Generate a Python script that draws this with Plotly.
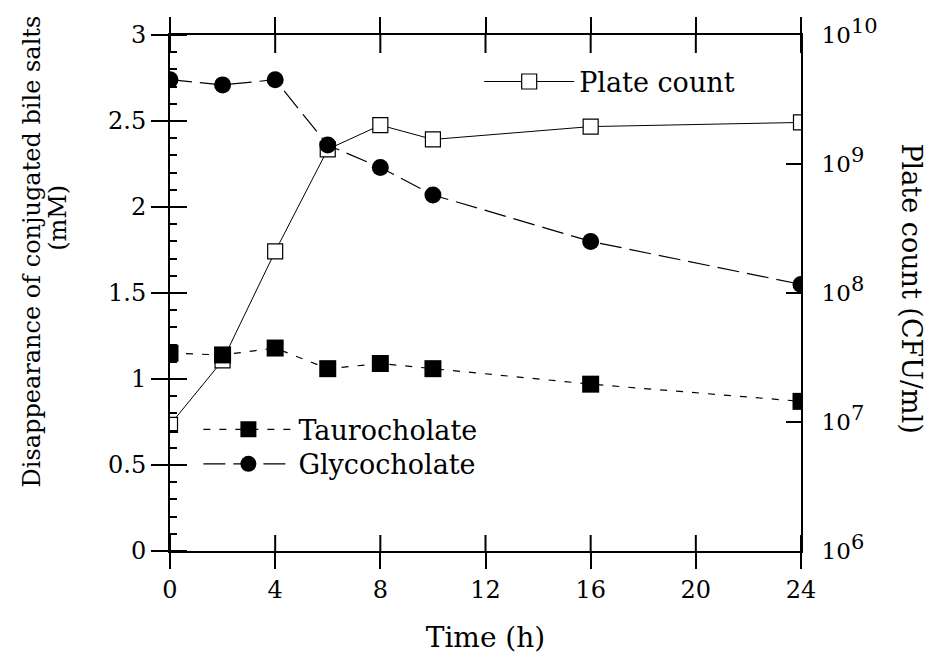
import plotly.graph_objects as go

time_h = [0, 2, 4, 6, 8, 10, 16, 24]
taurocholate = [1.15, 1.14, 1.18, 1.06, 1.09, 1.06, 0.97, 0.87]
glycocholate = [2.74, 2.71, 2.74, 2.36, 2.23, 2.07, 1.80, 1.55]
plate_count = [9.5e6, 3.0e7, 2.1e8, 1.3e9, 2.0e9, 1.55e9, 1.95e9, 2.1e9]

x_ticks = [0, 4, 8, 12, 16, 20, 24]
left_ticks = [0, 0.5, 1, 1.5, 2, 2.5, 3]
left_ticktext = ["0", "0.5", "1", "1.5", "2", "2.5", "3"]
right_tickvals = [1e6, 1e7, 1e8, 1e9, 1e10]
right_exponents = ["6", "7", "8", "9", "10"]
right_ticktext = ["10<sup><span style='font-size:21px'>%s</span></sup>" % e for e in right_exponents]

FONT = "DejaVu Serif"
BLACK = "#000000"

W, H = 930, 654
ML, MR, MT, MB = 170, 129, 35, 103
PLOT_W = W - ML - MR
PLOT_H = H - MT - MB

fig = go.Figure()

fig.add_trace(go.Scatter(
    x=time_h, y=plate_count, name="Plate count", mode="lines+markers",
    xaxis="x", yaxis="y",
    line=dict(color=BLACK, width=1),
    marker=dict(symbol="square", size=15, color="white", line=dict(color=BLACK, width=1.2)),
    legend="legend",
))
fig.add_trace(go.Scatter(
    x=time_h, y=taurocholate, name="Taurocholate", mode="lines+markers",
    xaxis="x", yaxis="y2",
    line=dict(color=BLACK, width=1.2, dash="7px,9px"),
    marker=dict(symbol="square", size=17, color=BLACK),
    legend="legend2",
))
fig.add_trace(go.Scatter(
    x=time_h, y=glycocholate, name="Glycocholate", mode="lines+markers",
    xaxis="x", yaxis="y2",
    line=dict(color=BLACK, width=1.2, dash="22px,8px"),
    marker=dict(symbol="circle", size=17, color=BLACK),
    legend="legend3",
))

tickfont = dict(family=FONT, size=24, color=BLACK)
legfont = dict(family=FONT, size=27, color=BLACK)

fig.update_layout(
    width=W, height=H,
    margin=dict(l=ML, r=MR, t=MT, b=MB, autoexpand=False),
    paper_bgcolor="white", plot_bgcolor="white",
    font=dict(family=FONT, size=24, color=BLACK),
    xaxis=dict(
        range=[0, 24], tickvals=x_ticks, ticks="outside", ticklen=16, tickwidth=2,
        tickcolor=BLACK, showline=True, linewidth=2, linecolor=BLACK, mirror="ticks",
        showgrid=False, zeroline=False, tickfont=tickfont, anchor="y", automargin=False,
        title=dict(text="Time (h)", font=dict(family=FONT, size=28), standoff=26),
    ),
    yaxis=dict(
        type="log", range=[6, 10], side="right", tickvals=right_tickvals,
        ticktext=right_ticktext, ticks="inside", ticklen=15, tickwidth=2,
        tickcolor=BLACK, showline=True, linewidth=2, linecolor=BLACK,
        showgrid=False, zeroline=False, tickfont=dict(family=FONT, size=23, color=BLACK),
        ticklabelstandoff=14, anchor="x", automargin=False,
    ),
    yaxis2=dict(
        range=[0, 3], side="left", tickvals=left_ticks, ticktext=left_ticktext,
        ticks="outside", ticklen=17, tickwidth=2, tickcolor=BLACK,
        showline=True, linewidth=2, linecolor=BLACK, showgrid=False, zeroline=False,
        tickfont=tickfont, overlaying="y", anchor="x", automargin=False,
        minor=dict(ticks="inside", dtick=0.1, ticklen=7, tickwidth=2, tickcolor=BLACK, showgrid=False),
    ),
    legend=dict(
        x=0.49, y=0.909, xanchor="left", yanchor="middle", bgcolor="rgba(0,0,0,0)",
        font=legfont, itemwidth=90,
    ),
    legend2=dict(
        x=0.045, y=0.235, xanchor="left", yanchor="middle", bgcolor="rgba(0,0,0,0)",
        font=legfont, itemwidth=90,
    ),
    legend3=dict(
        x=0.045, y=0.168, xanchor="left", yanchor="middle", bgcolor="rgba(0,0,0,0)",
        font=legfont, itemwidth=90,
    ),
    showlegend=True,
)

# inward halves of the crossing major ticks (positions taken from the tick lists)
tick_line = dict(color=BLACK, width=2)
in_x = 16 / PLOT_H
in_top = 18 / PLOT_H
in_y = 17 / PLOT_W
for xv in x_ticks:
    fig.add_shape(type="line", xref="x", yref="paper", x0=xv, x1=xv, y0=0, y1=in_x,
                  line=tick_line, layer="above")
    fig.add_shape(type="line", xref="x", yref="paper", x0=xv, x1=xv, y0=1, y1=1 - in_top,
                  line=tick_line, layer="above")
for yv in left_ticks:
    fig.add_shape(type="line", xref="paper", yref="y2", x0=0, x1=in_y, y0=yv, y1=yv,
                  line=tick_line, layer="above")

fig.add_annotation(
    text="Disappearance of conjugated bile salts", textangle=-90,
    xref="paper", yref="paper", x=-0.219, y=0.58, xanchor="center", yanchor="middle",
    showarrow=False, font=dict(family=FONT, size=24, color=BLACK),
)
fig.add_annotation(
    text="(mM)", textangle=-90,
    xref="paper", yref="paper", x=-0.178, y=0.645, xanchor="center", yanchor="middle",
    showarrow=False, font=dict(family=FONT, size=24, color=BLACK),
)
fig.add_annotation(
    text="Plate count (CFU/ml)", textangle=90,
    xref="paper", yref="paper", x=1.175, y=0.508, xanchor="center", yanchor="middle",
    showarrow=False, font=dict(family=FONT, size=27, color=BLACK),
)

fig.write_html("out.html")
